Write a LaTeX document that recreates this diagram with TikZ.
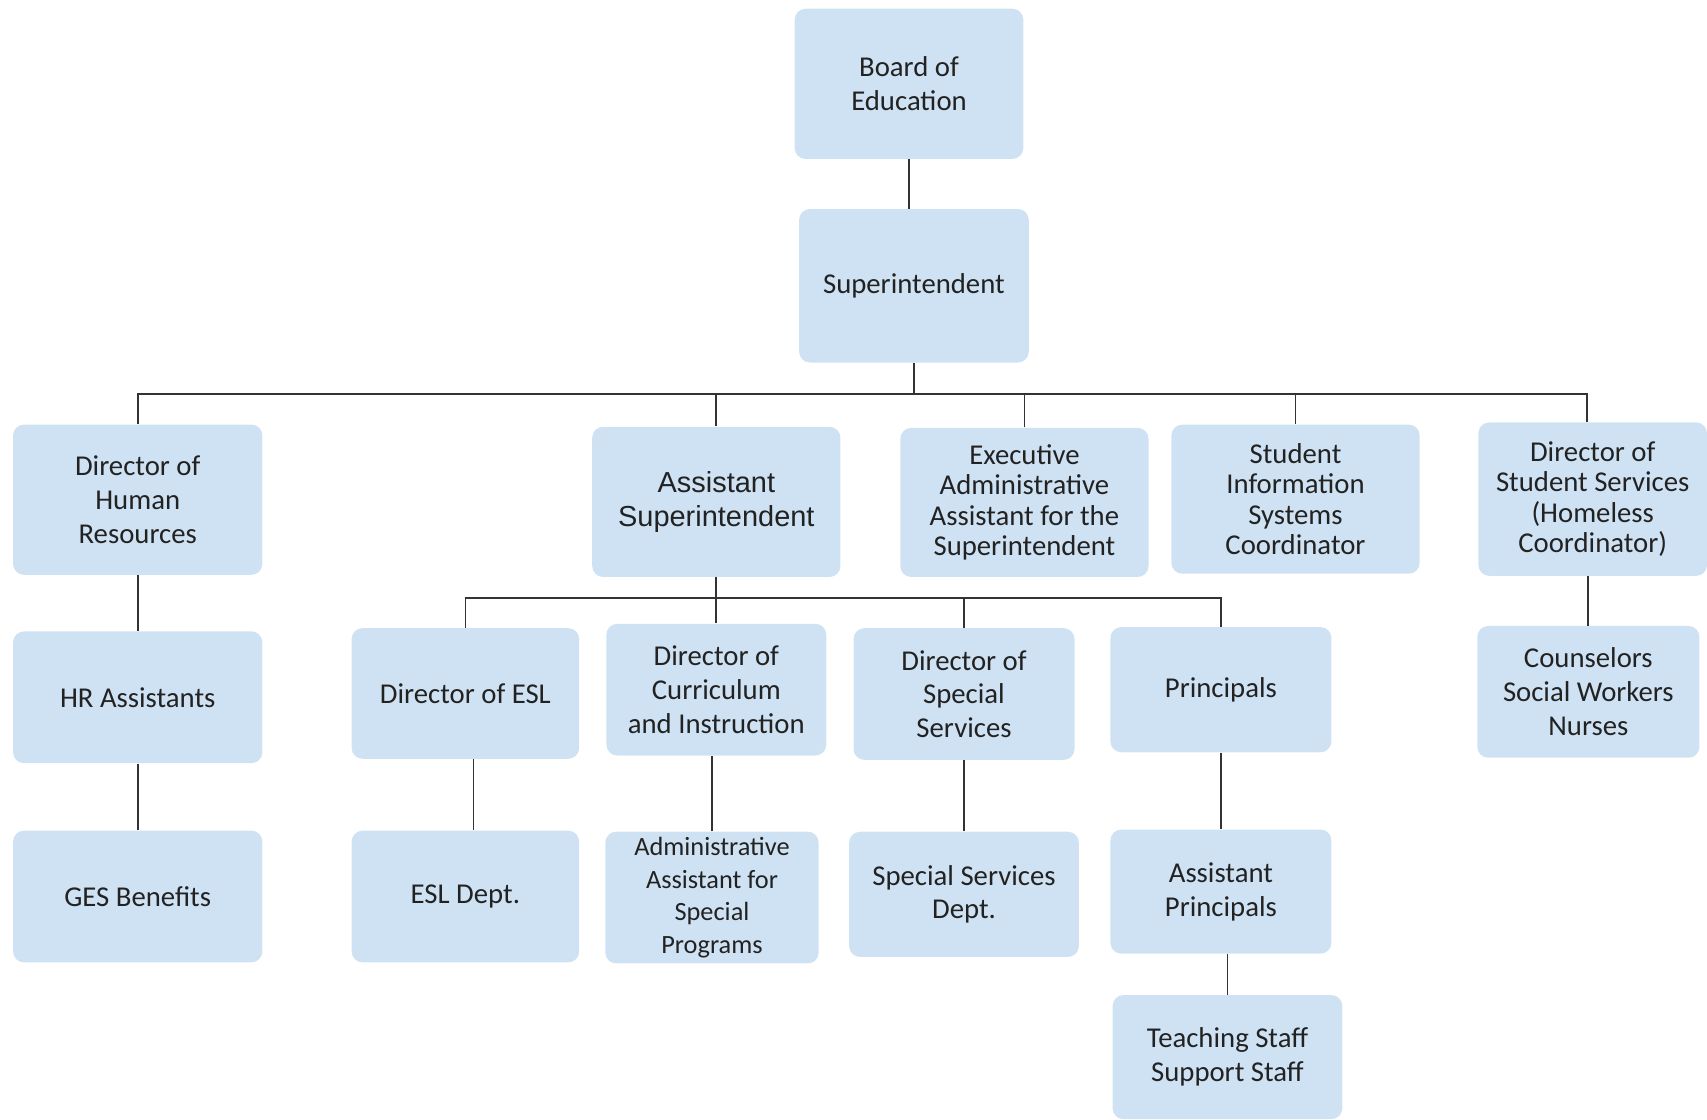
\documentclass[tikz,border=0pt]{standalone}
\usepackage{fontspec}
\setmainfont{Carlito}
\newfontfamily\arialfont{Liberation Sans}
\definecolor{boxfill}{HTML}{CFE2F3}
\definecolor{txt}{HTML}{222222}
\definecolor{ln}{HTML}{333333}
\begin{document}
\begin{tikzpicture}[x=0.5pt,y=-0.5pt,
  box/.style={fill=boxfill, rounded corners=5pt, align=center, text=txt, inner sep=0pt,
    font=\fontsize{13.2pt}{15.5pt}\selectfont},
  dims/.style 2 args={minimum width=#1*0.5pt, minimum height=#2*0.5pt},
  tight/.style={font=\fontsize{13.2pt}{14pt}\selectfont},
  small/.style={font=\fontsize{12.1pt}{14.9pt}\selectfont},
  arialtxt/.style={font=\arialfont\fontsize{13.3pt}{15.5pt}\selectfont},
  conn/.style={draw=ln, line width=0.8pt}]
\useasboundingbox (0,0) rectangle (1568,1028);

% row 1-2
\node[box,dims={210}{138}] (board) at (835,77) {Board of\\Education};
\node[box,dims={211}{141}] (super) at (839.5,262.5) {Superintendent};

% row 3
\node[box,dims={229}{138}] (dirhr) at (126.5,459) {Director of\\Human\\Resources};
\node[box,arialtxt,dims={228}{138}] (as) at (658,461) {Assistant\\Superintendent};
\node[box,tight,dims={228}{137}] (exec) at (941,461.5) {Executive\\Administrative\\Assistant for the\\Superintendent};
\node[box,tight,dims={228}{137}] (sis) at (1190,458.5) {Student\\Information\\Systems\\Coordinator};
\node[box,tight,dims={210}{141}] (dirss) at (1463,458.5) {Director of\\Student Services\\(Homeless\\Coordinator)};

% row 4
\node[box,dims={229}{121}] (hra) at (126.5,640.5) {HR Assistants};
\node[box,dims={209}{120}] (esl) at (427.5,637) {Director of ESL};
\node[box,dims={202}{121}] (ci) at (658,633.5) {Director of\\Curriculum\\and Instruction};
\node[box,dims={203}{121}] (sps) at (885.5,637.5) {Director of\\Special\\Services};
\node[box,dims={203}{115}] (prin) at (1121.5,633.5) {Principals};
\node[box,dims={204}{121}] (couns) at (1459,635.5) {Counselors\\Social Workers\\Nurses};

% row 5
\node[box,dims={229}{121}] (ges) at (126.5,823.5) {GES Benefits};
\node[box,dims={209}{121}] (esldept) at (427.5,823.5) {ESL Dept.};
\node[box,small,dims={196}{121}] (admin) at (654,824.5) {Administrative\\Assistant for\\Special\\Programs};
\node[box,dims={211}{115}] (spsdept) at (885.5,821.5) {Special Services\\Dept.};
\node[box,dims={203}{114}] (asstprin) at (1121.5,819) {Assistant\\Principals};

% row 6
\node[box,dims={211}{114}] (teach) at (1127.5,971) {Teaching Staff\\Support Staff};

% connectors
\draw[conn] (board.south) -- (board.south |- super.north);
\coordinate (bus1) at (839.5,362);
\draw[conn] (super.south) -- (bus1);
\foreach \n in {dirhr,as,exec,sis} \draw[conn] (\n.north) |- (bus1);
\draw[conn] ([xshift=-2.5pt]dirss.north) |- (bus1);
\coordinate (bus2) at (658,549);
\draw[conn] (as.south) -- (bus2);
\foreach \n in {esl,ci,sps,prin} \draw[conn] (\n.north) |- (bus2);
\draw[conn] (dirhr.south) -- (hra.north);
\draw[conn] (hra.south) -- (ges.north);
\draw[conn] ([xshift=3.75pt]esl.south) -- ([xshift=3.75pt]esldept.north);
\draw[conn] (admin.north) -- (admin.north |- ci.south);
\draw[conn] (sps.south) -- (spsdept.north);
\draw[conn] (prin.south) -- (asstprin.north);
\draw[conn] (teach.north) -- (teach.north |- asstprin.south);
\draw[conn] (couns.north) -- (couns.north |- dirss.south);
\end{tikzpicture}
\end{document}
